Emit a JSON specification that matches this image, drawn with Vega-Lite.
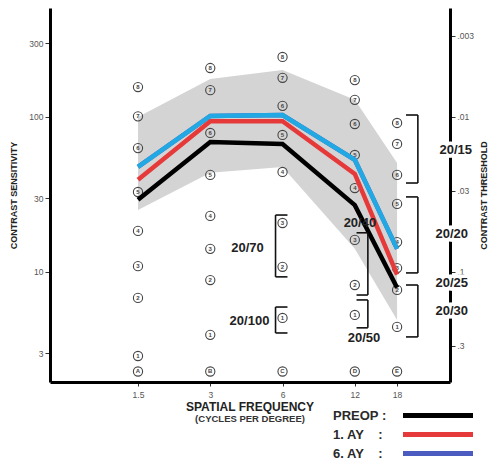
{
  "$schema": "https://vega.github.io/schema/vega-lite/v6.json",
  "width": 400,
  "height": 374,
  "autosize": {"type": "none"},
  "padding": {"left": 50, "top": 8, "right": 41, "bottom": 81},
  "background": "white",
  "config": {"view": {"stroke": null}, "font": "Liberation Sans"},
  "title": {
    "text": "SPATIAL FREQUENCY",
    "subtitle": "(CYCLES PER DEGREE)",
    "orient": "bottom",
    "anchor": "middle",
    "frame": "group",
    "font": "Liberation Sans",
    "fontSize": 12,
    "fontWeight": "bold",
    "color": "#222",
    "subtitleFont": "Liberation Sans",
    "subtitleFontSize": 9.5,
    "subtitleFontWeight": "bold",
    "subtitleColor": "#333",
    "subtitlePadding": 0,
    "offset": 2,
    "dy": -64
  },
  "datasets": {
    "band": [
      {"f": 1.5, "lo": 25.1, "hi": 100},
      {"f": 3, "lo": 43.6, "hi": 176},
      {"f": 6, "lo": 47.6, "hi": 201},
      {"f": 12, "lo": 14.1, "hi": 129},
      {"f": 18, "lo": 4.9, "hi": 50.5}
    ],
    "circles": [
      {"f": 1.5, "v": 156, "t": "8"}, {"f": 1.5, "v": 101, "t": "7"}, {"f": 1.5, "v": 63, "t": "6"},
      {"f": 1.5, "v": 32.8, "t": "5"}, {"f": 1.5, "v": 18.4, "t": "4"}, {"f": 1.5, "v": 10.9, "t": "3"},
      {"f": 1.5, "v": 6.8, "t": "2"}, {"f": 1.5, "v": 2.87, "t": "1"}, {"f": 1.5, "v": 2.28, "t": "A"},
      {"f": 3, "v": 207, "t": "8"}, {"f": 3, "v": 149, "t": "7"}, {"f": 3, "v": 78.9, "t": "6"},
      {"f": 3, "v": 42.3, "t": "5"}, {"f": 3, "v": 23.0, "t": "4"}, {"f": 3, "v": 14.1, "t": "3"},
      {"f": 3, "v": 8.87, "t": "2"}, {"f": 3, "v": 3.93, "t": "1"}, {"f": 3, "v": 2.28, "t": "B"},
      {"f": 6, "v": 244, "t": "8"}, {"f": 6, "v": 179, "t": "7"}, {"f": 6, "v": 118, "t": "6"},
      {"f": 6, "v": 76.6, "t": "5"}, {"f": 6, "v": 44.2, "t": "4"}, {"f": 6, "v": 20.7, "t": "3"},
      {"f": 6, "v": 10.8, "t": "2"}, {"f": 6, "v": 5.05, "t": "1"}, {"f": 6, "v": 2.28, "t": "C"},
      {"f": 12, "v": 173, "t": "8"}, {"f": 12, "v": 129, "t": "7"}, {"f": 12, "v": 90.1, "t": "6"},
      {"f": 12, "v": 56.9, "t": "5"}, {"f": 12, "v": 34.8, "t": "4"}, {"f": 12, "v": 16.1, "t": "3"},
      {"f": 12, "v": 8.24, "t": "2"}, {"f": 12, "v": 5.28, "t": "1"}, {"f": 12, "v": 2.28, "t": "D"},
      {"f": 18, "v": 91.5, "t": "8"}, {"f": 18, "v": 67.0, "t": "7"}, {"f": 18, "v": 42.3, "t": "6"},
      {"f": 18, "v": 27.5, "t": "5"}, {"f": 18, "v": 15.6, "t": "4"}, {"f": 18, "v": 10.6, "t": "3"},
      {"f": 18, "v": 7.66, "t": "2"}, {"f": 18, "v": 4.42, "t": "1"}, {"f": 18, "v": 2.28, "t": "E"}
    ],
    "lines": [
      {"s": "6. AY", "f": 1.5, "v": 47.6}, {"s": "6. AY", "f": 3, "v": 101.5}, {"s": "6. AY", "f": 6, "v": 103},
      {"s": "6. AY", "f": 12, "v": 53}, {"s": "6. AY", "f": 18, "v": 14.1},
      {"s": "1. AY", "f": 1.5, "v": 39.3}, {"s": "1. AY", "f": 3, "v": 94}, {"s": "1. AY", "f": 6, "v": 94},
      {"s": "1. AY", "f": 12, "v": 42.9}, {"s": "1. AY", "f": 18, "v": 9.6},
      {"s": "PREOP", "f": 1.5, "v": 29.2}, {"s": "PREOP", "f": 3, "v": 69}, {"s": "PREOP", "f": 6, "v": 67},
      {"s": "PREOP", "f": 12, "v": 27}, {"s": "PREOP", "f": 18, "v": 7.9}
    ],
    "brackets": [
      {"b": "20/70", "xv": 5.61, "xt": 6.29, "lo": 9.3, "hi": 23.3},
      {"b": "20/100", "xv": 5.61, "xt": 6.29, "lo": 4.04, "hi": 5.94},
      {"b": "20/40", "xv": 13.6, "xt": 12.2, "lo": 7.1, "hi": 17.9},
      {"b": "20/50", "xv": 13.6, "xt": 12.2, "lo": 4.36, "hi": 6.6},
      {"b": "20/15", "xv": 21.97, "xt": 19.6, "lo": 37.5, "hi": 103},
      {"b": "20/20", "xv": 21.97, "xt": 19.6, "lo": 9.86, "hi": 30.5},
      {"b": "20/30", "xv": 21.97, "xt": 19.6, "lo": 3.81, "hi": 8.24}
    ],
    "notes": [
      {"t": "20/70", "f": 4.29, "v": 14.3},
      {"t": "20/100", "f": 4.37, "v": 4.83},
      {"t": "20/40", "f": 12.6, "v": 20.7},
      {"t": "20/50", "f": 13.1, "v": 3.75}
    ],
    "axisNotes": [
      {"t": "20/15", "f": 31.6, "v": 61.2},
      {"t": "20/20", "f": 30.4, "v": 17.6},
      {"t": "20/25", "f": 30.4, "v": 8.5},
      {"t": "20/30", "f": 30.4, "v": 5.6}
    ],
    "threshold": [
      {"t": 0.003}, {"t": 0.01}, {"t": 0.03}, {"t": 0.1}, {"t": 0.3}
    ]
  },
  "layer": [
    {
      "layer": [
        {
          "data": {"name": "band"},
          "mark": {"type": "area", "color": "#d4d4d4"},
          "encoding": {
            "x": {
              "field": "f", "type": "quantitative",
              "scale": {"type": "log", "domain": [0.645, 29.9], "nice": false},
              "axis": {
                "values": [1.5, 3, 6, 12, 18], "format": "~g", "title": null, "grid": false,
                "domainWidth": 3, "domainColor": "#000", "tickColor": "#333", "tickSize": 4,
                "labelFontSize": 8.5, "labelColor": "#555", "labelPadding": 4
              }
            },
            "y": {
              "field": "lo", "type": "quantitative",
              "scale": {"type": "log", "domain": [1.95, 505], "nice": false},
              "axis": {
                "values": [3, 10, 30, 100, 300], "format": "~g", "title": "CONTRAST SENSITIVITY", "grid": false,
                "domainWidth": 3, "domainColor": "#000", "tickColor": "#333", "tickSize": 5,
                "labelFontSize": 8.5, "labelColor": "#555", "labelPadding": 2,
                "titleFontSize": 9, "titleFontWeight": "bold", "titleColor": "#222", "titlePadding": 10
              }
            },
            "y2": {"field": "hi"}
          }
        },
        {
          "data": {"name": "circles"},
          "mark": {"type": "point", "shape": "circle", "filled": false, "stroke": "#444", "strokeWidth": 1.1, "size": 85, "opacity": 1},
          "encoding": {
            "x": {"field": "f", "type": "quantitative"},
            "y": {"field": "v", "type": "quantitative"}
          }
        },
        {
          "data": {"name": "circles"},
          "mark": {"type": "text", "fontSize": 6, "color": "#444", "baseline": "middle", "align": "center", "fontWeight": "bold"},
          "encoding": {
            "x": {"field": "f", "type": "quantitative"},
            "y": {"field": "v", "type": "quantitative"},
            "text": {"field": "t"}
          }
        },
        {
          "data": {"name": "lines"},
          "mark": {"type": "line", "strokeWidth": 4.5},
          "encoding": {
            "x": {"field": "f", "type": "quantitative"},
            "y": {"field": "v", "type": "quantitative"},
            "color": {
              "field": "s", "type": "nominal",
              "scale": {"domain": ["PREOP", "1. AY", "6. AY"], "range": ["#000000", "#e63a3a", "#4b5bbf"]},
              "legend": {
                "orient": "none", "legendX": 283, "legendY": 400, "title": null, "padding": 0,
                "labelFont": "Liberation Sans", "labelFontSize": 13, "labelFontWeight": "bold", "labelColor": "#2a2a2a",
                "labelExpr": "datum.label == 'PREOP' ? 'PREOP :' : datum.label + '\u00a0\u00a0\u00a0\u00a0:'",
                "symbolType": "M-7,0H7", "symbolSize": 100, "symbolStrokeWidth": 5, "rowPadding": -2,
                "encode": {
                  "symbols": {"update": {"x": {"value": 105}}},
                  "labels": {"update": {"x": {"value": 0}}}
                }
              }
            }
          }
        },
        {
          "data": {"name": "lines"},
          "transform": [{"filter": "datum.s == '6. AY'"}],
          "mark": {"type": "line", "strokeWidth": 4.5, "color": "#22a8e2"},
          "encoding": {
            "x": {"field": "f", "type": "quantitative"},
            "y": {"field": "v", "type": "quantitative"}
          }
        },
        {
          "data": {"name": "brackets"},
          "mark": {"type": "rule", "color": "#111", "strokeWidth": 1.6},
          "encoding": {
            "x": {"field": "xv", "type": "quantitative"},
            "y": {"field": "lo", "type": "quantitative"},
            "y2": {"field": "hi"}
          }
        },
        {
          "data": {"name": "brackets"},
          "mark": {"type": "rule", "color": "#111", "strokeWidth": 1.6},
          "encoding": {
            "x": {"field": "xt", "type": "quantitative"},
            "x2": {"field": "xv"},
            "y": {"field": "lo", "type": "quantitative"}
          }
        },
        {
          "data": {"name": "brackets"},
          "mark": {"type": "rule", "color": "#111", "strokeWidth": 1.6},
          "encoding": {
            "x": {"field": "xt", "type": "quantitative"},
            "x2": {"field": "xv"},
            "y": {"field": "hi", "type": "quantitative"}
          }
        },
        {
          "data": {"name": "notes"},
          "mark": {"type": "text", "fontSize": 13, "fontWeight": "bold", "color": "#222", "align": "center", "baseline": "middle"},
          "encoding": {
            "x": {"field": "f", "type": "quantitative"},
            "y": {"field": "v", "type": "quantitative"},
            "text": {"field": "t"}
          }
        },
        {
          "data": {"name": "axisNotes"},
          "mark": {"type": "text", "fontSize": 13, "fontWeight": "bold", "color": "white", "stroke": "white", "strokeWidth": 7, "align": "center", "baseline": "middle"},
          "encoding": {
            "x": {"field": "f", "type": "quantitative"},
            "y": {"field": "v", "type": "quantitative"},
            "text": {"field": "t"}
          }
        },
        {
          "data": {"name": "axisNotes"},
          "mark": {"type": "text", "fontSize": 13, "fontWeight": "bold", "color": "#222", "align": "center", "baseline": "middle"},
          "encoding": {
            "x": {"field": "f", "type": "quantitative"},
            "y": {"field": "v", "type": "quantitative"},
            "text": {"field": "t"}
          }
        }
      ]
    },
    {
      "data": {"name": "threshold"},
      "mark": {"type": "point", "opacity": 0},
      "encoding": {
        "y": {
          "field": "t", "type": "quantitative",
          "scale": {"type": "log", "domain": [0.00198, 0.513], "reverse": true, "nice": false},
          "axis": {
            "orient": "right", "values": [0.003, 0.01, 0.03, 0.1, 0.3],
            "labelExpr": "slice(format(datum.value, '~g'), 1)",
            "title": "CONTRAST THRESHOLD", "grid": false,
            "domainWidth": 3, "domainColor": "#000", "tickColor": "#333", "tickSize": 5,
            "labelFontSize": 8.5, "labelColor": "#555", "labelPadding": 2,
            "titleFontSize": 9, "titleFontWeight": "bold", "titleColor": "#222", "titlePadding": 6,
            "titleAngle": 270, "titleBaseline": "top"
          }
        }
      }
    }
  ],
  "resolve": {"scale": {"y": "independent"}}
}
